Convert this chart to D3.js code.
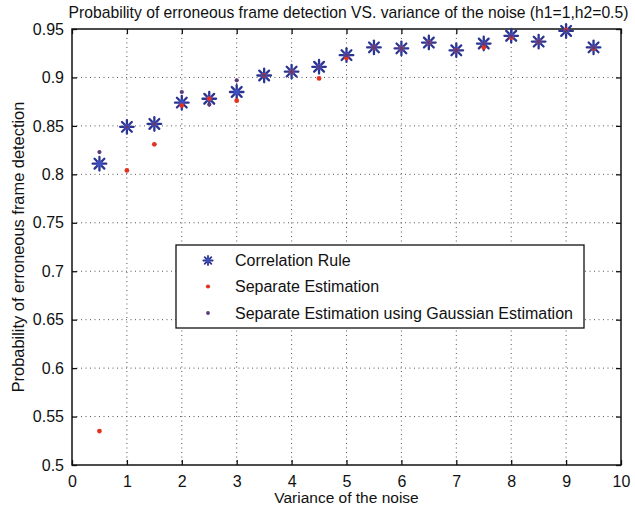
<!DOCTYPE html>
<html>
<head>
<meta charset="utf-8">
<script src="https://cdn.jsdelivr.net/npm/d3@7"></script>
<style>
  html, body { margin: 0; padding: 0; background: #fff; }
  svg { display: block; font-family: "Liberation Sans", Arial, Helvetica, sans-serif; }
</style>
</head>
<body>
<svg id="chart" width="635" height="508"></svg>
<script>
// Noise variance values at which each detector was evaluated
const variance = [0.5, 1, 1.5, 2, 2.5, 3, 3.5, 4, 4.5, 5, 5.5, 6, 6.5, 7, 7.5, 8, 8.5, 9, 9.5];

// Probability of erroneous frame detection for each method
const correlationRule = [0.811, 0.849, 0.852, 0.874, 0.878, 0.885, 0.902, 0.906, 0.911, 0.923, 0.931, 0.930, 0.936, 0.928, 0.935, 0.943, 0.937, 0.948, 0.931];
const separateEstimation = [0.535, 0.804, 0.831, 0.871, 0.878, 0.876, 0.902, 0.906, 0.899, 0.920, 0.931, 0.930, 0.936, 0.928, 0.931, 0.941, 0.937, 0.949, 0.930];
const separateGaussian = [0.823, 0.849, 0.852, 0.885, 0.872, 0.897, 0.902, 0.906, 0.911, 0.923, 0.931, 0.930, 0.936, 0.928, 0.935, 0.943, 0.937, 0.948, 0.931];

const xTicks = [0, 1, 2, 3, 4, 5, 6, 7, 8, 9, 10];
const yTicks = [0.5, 0.55, 0.6, 0.65, 0.7, 0.75, 0.8, 0.85, 0.9, 0.95];

const legendLabels = ["Correlation Rule", "Separate Estimation", "Separate Estimation using Gaussian Estimation"];

const W = 635, H = 508;
const m = { left: 72, right: 14, top: 29, bottom: 43 };
const pw = W - m.left - m.right, ph = H - m.top - m.bottom;

const svg = d3.select("#chart");
const x = d3.scaleLinear().domain([0, 10]).range([m.left, m.left + pw]);
const y = d3.scaleLinear().domain([0.5, 0.95]).range([m.top + ph, m.top]);

const starColor = "#2b3590";
const redColor = "#e3321f";
const purpleColor = "#5a3c7c";

// Dotted grid
const grid = svg.append("g").attr("stroke", "#555").attr("stroke-width", 1).attr("stroke-dasharray", "1,3.5");
grid.selectAll("line.v").data(xTicks.slice(1, -1)).join("line")
  .attr("x1", d => x(d)).attr("x2", d => x(d))
  .attr("y1", m.top).attr("y2", m.top + ph);
grid.selectAll("line.h").data(yTicks.slice(1, -1)).join("line")
  .attr("y1", d => y(d)).attr("y2", d => y(d))
  .attr("x1", m.left).attr("x2", m.left + pw);

// Axes with inward ticks on all four sides
const tickLen = 5;
const fmtY = d => d3.format(".2~f")(d);
const axB = svg.append("g").attr("transform", `translate(0,${m.top + ph})`)
  .call(d3.axisBottom(x).tickValues(xTicks).tickSize(-tickLen).tickPadding(11).tickFormat(d3.format("d")));
const axT = svg.append("g").attr("transform", `translate(0,${m.top})`)
  .call(d3.axisTop(x).tickValues(xTicks).tickSize(-tickLen).tickFormat(""));
const axL = svg.append("g").attr("transform", `translate(${m.left},0)`)
  .call(d3.axisLeft(y).tickValues(yTicks).tickSize(-tickLen).tickPadding(8).tickFormat(fmtY));
const axR = svg.append("g").attr("transform", `translate(${m.left + pw},0)`)
  .call(d3.axisRight(y).tickValues(yTicks).tickSize(-tickLen).tickFormat(""));

[axB, axT, axL, axR].forEach(a => {
  a.select(".domain").remove();
  a.selectAll(".tick line").attr("stroke", "#111").attr("stroke-width", 1.3);
  a.selectAll(".tick text").attr("fill", "#111").style("font-size", "16px");
});

// Frame
svg.append("rect")
  .attr("x", m.left).attr("y", m.top).attr("width", pw).attr("height", ph)
  .attr("fill", "none").attr("stroke", "#111").attr("stroke-width", 1.5);

// Star marker (plus combined with cross)
function star(g, cx, cy, r, w) {
  const s = g.append("g").attr("transform", `translate(${cx},${cy})`)
    .attr("stroke", starColor).attr("stroke-width", w).attr("stroke-linecap", "round");
  const d = r * 0.72;
  s.append("line").attr("x1", -r).attr("x2", r).attr("y1", 0).attr("y2", 0);
  s.append("line").attr("x1", 0).attr("x2", 0).attr("y1", -r).attr("y2", r);
  s.append("line").attr("x1", -d).attr("x2", d).attr("y1", -d).attr("y2", d);
  s.append("line").attr("x1", -d).attr("x2", d).attr("y1", d).attr("y2", -d);
  s.append("circle").attr("r", r * 0.45).attr("fill", "#3d4fc0").attr("stroke", "none");
}

const marks = svg.append("g");
variance.forEach((v, i) => star(marks, x(v), y(correlationRule[i]), 6.8, 2.3));

marks.selectAll("circle.sep").data(variance).join("circle")
  .attr("class", "sep")
  .attr("cx", d => x(d)).attr("cy", (d, i) => y(separateEstimation[i]))
  .attr("r", 2.4).attr("fill", redColor);

marks.selectAll("circle.gau").data(variance).join("circle")
  .attr("class", "gau")
  .attr("cx", d => x(d)).attr("cy", (d, i) => y(separateGaussian[i]))
  .attr("r", 2.1).attr("fill", purpleColor);

// Legend
const lg = svg.append("g");
lg.append("rect").attr("x", 176).attr("y", 245).attr("width", 408).attr("height", 83)
  .attr("fill", "#fff").attr("stroke", "#111").attr("stroke-width", 1.3);
const rowY = [260.5, 286.5, 313];
star(lg, 208, rowY[0], 4.6, 1.8);
lg.append("circle").attr("cx", 208).attr("cy", rowY[1]).attr("r", 2.1).attr("fill", redColor);
lg.append("circle").attr("cx", 208).attr("cy", rowY[2]).attr("r", 1.9).attr("fill", purpleColor);
lg.selectAll("text").data(legendLabels).join("text")
  .attr("x", 235).attr("y", (d, i) => rowY[i]).attr("dy", "0.35em")
  .attr("fill", "#111").style("font-size", "16px").text(d => d);

// Titles
svg.append("text").attr("x", m.left + pw / 2 + 2).attr("y", 18).attr("text-anchor", "middle")
  .attr("fill", "#111").style("font-size", "15.7px")
  .text("Probability of erroneous frame detection VS. variance of the noise (h1=1,h2=0.5)");
svg.append("text").attr("x", m.left + pw / 2).attr("y", 503).attr("text-anchor", "middle")
  .attr("fill", "#111").style("font-size", "15.5px").text("Variance of the noise");
svg.append("text").attr("transform", `translate(24,${m.top + ph / 2}) rotate(-90)`)
  .attr("text-anchor", "middle").attr("fill", "#111").style("font-size", "16.4px")
  .text("Probability of erroneous frame detection");
</script>
</body>
</html>
